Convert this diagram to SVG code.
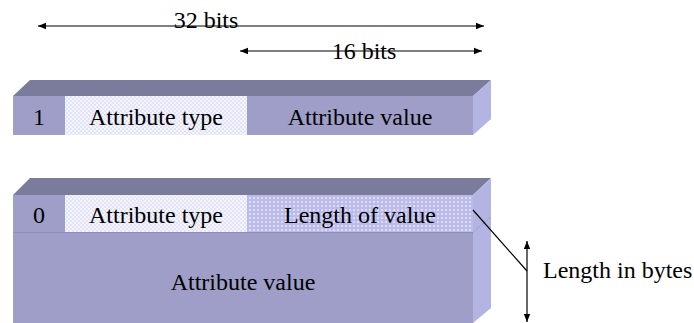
<svg xmlns="http://www.w3.org/2000/svg" width="694" height="323" viewBox="0 0 694 323">
<defs>
<style>
text{font-family:"Liberation Serif","Times New Roman",serif;font-size:24px;fill:#000}
.mid{text-anchor:middle}
.top{fill:#7b7b9b}
.front{fill:#9e9ec8}
.side{fill:#b4b4e2}
.light{fill:url(#checker)}
.dots{fill:url(#dots)}
.conn{stroke:#000;stroke-width:1.2;fill:none}
</style>
<pattern id="checker" width="4" height="4" patternUnits="userSpaceOnUse">
<rect width="4" height="4" fill="#e4e4f8"/>
<rect width="2" height="2" fill="#f4f4fd"/>
<rect x="2" y="2" width="2" height="2" fill="#f4f4fd"/>
</pattern>
<pattern id="dots" width="4" height="4" patternUnits="userSpaceOnUse">
<rect width="4" height="4" fill="#bcbcec"/>
<rect x="1" y="1" width="2" height="2" fill="#dcdcf8"/>
</pattern>
<marker id="ah" viewBox="0 0 10 10" refX="10" refY="5" markerWidth="8" markerHeight="8" markerUnits="userSpaceOnUse" orient="auto-start-reverse">
<path d="M0,1 L10,5 L0,9 Z" fill="#000"/>
</marker>
</defs>

<g id="box1">
<polygon class="top" points="13,96 30,80 491,80 473,96"/>
<polygon class="side" points="473,96 491,80 491,119 473,135"/>
<rect class="front" x="13" y="96" width="52" height="39"/>
<rect class="light" x="65" y="96" width="182" height="39"/>
<rect class="front" x="247" y="96" width="226" height="39"/>
<text class="mid" x="39" y="125">1</text>
<text class="mid" x="156" y="125">Attribute type</text>
<text class="mid" x="360" y="125">Attribute value</text>
</g>

<g id="box2">
<polygon class="top" points="13,195 30,178 491,178 473,195"/>
<polygon class="side" points="473,195 491,178 491,308 473,323"/>
<line x1="473" y1="232" x2="491" y2="217" stroke="#a4a4d0" stroke-width="1"/>
<rect class="front" x="13" y="195" width="52" height="37"/>
<rect class="light" x="65" y="195" width="182" height="37"/>
<rect class="dots" x="247" y="195" width="226" height="37"/>
<rect class="front" x="13" y="232" width="460" height="91"/>
<line x1="13" y1="232.5" x2="473" y2="232.5" stroke="#8e8eb8" stroke-width="1"/>
<text class="mid" x="39" y="223">0</text>
<text class="mid" x="156" y="223">Attribute type</text>
<text class="mid" x="360" y="223">Length of value</text>
<text class="mid" x="243" y="290">Attribute value</text>
</g>

<g id="connectors">
<line class="conn" x1="38" y1="26" x2="484" y2="26" marker-start="url(#ah)" marker-end="url(#ah)"/>
<line class="conn" x1="240" y1="51" x2="482" y2="51" marker-start="url(#ah)" marker-end="url(#ah)"/>
<line class="conn" x1="527" y1="241" x2="527" y2="322" marker-start="url(#ah)" marker-end="url(#ah)"/>
<line class="conn" x1="473" y1="210" x2="527" y2="271" stroke-width="1"/>
</g>

<g id="labels">
<text class="mid" x="206" y="28">32 bits</text>
<text class="mid" x="364" y="59">16 bits</text>
<text x="543" y="278">Length in bytes</text>
</g>
</svg>
